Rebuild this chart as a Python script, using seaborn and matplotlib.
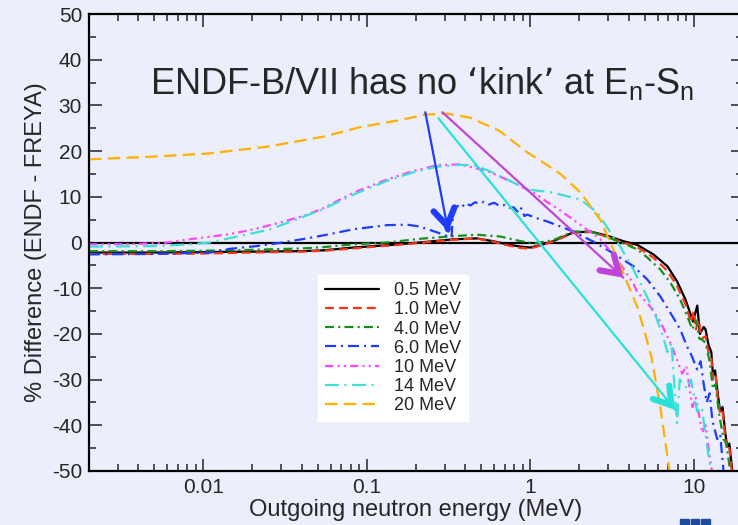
import numpy as np
import pandas as pd
import matplotlib
matplotlib.use("Agg")
import matplotlib.pyplot as plt
import matplotlib.ticker as mticker
from matplotlib.patches import Rectangle
import seaborn as sns

# ---------------- data ----------------
labels = ["0.5 MeV", "1.0 MeV", "4.0 MeV", "6.0 MeV", "10 MeV", "14 MeV", "20 MeV"]

e_05 = [0.002, 0.005, 0.01, 0.02, 0.04, 0.055, 0.083, 0.133, 0.21, 0.34, 0.47, 0.59, 0.72, 0.87,
        1.0, 1.15, 1.38, 1.83, 2.33, 2.95, 3.7, 4.5, 5.66, 6.9, 7.9, 8.9, 9.9, 10.5, 10.9, 11.5,
        11.8, 12.3, 12.8, 13.1, 13.5, 14.0, 14.5, 15.0, 15.5, 16.0, 16.5, 17.2, 17.5]
d_05 = [-2.2, -2.2, -2.1, -2.0, -1.9, -1.7, -1.1, -0.6, 0.0, 0.7, 0.9, 0.3, -0.4, -0.9,
        -1.1, -0.6, 0.3, 2.2, 2.4, 1.5, 0.3, -0.5, -2.6, -5.2, -8.5, -12.5, -17.3, -13.8, -20.0, -18.5,
        -19.0, -22.4, -24.0, -29.0, -28.0, -33.0, -37.0, -36.0, -41.0, -44.7, -44.0, -50.0, -55.0]

e_10 = [0.002, 0.005, 0.01, 0.02, 0.04, 0.055, 0.083, 0.133, 0.21, 0.34, 0.47, 0.59, 0.72, 0.87,
        1.0, 1.15, 1.38, 1.83, 2.33, 2.95, 3.7, 4.5, 5.66, 6.9, 7.9, 8.9, 9.6, 10.0, 10.3, 10.7,
        11.2, 11.8, 12.3, 12.8, 13.1, 13.6, 14.0, 14.5, 15.0, 15.5, 16.0, 16.5, 17.2, 17.5]
d_10 = [-2.5, -2.5, -2.4, -2.2, -2.0, -1.8, -1.3, -0.7, -0.1, 0.6, 0.9, 0.2, -0.6, -1.2,
        -1.3, -0.7, 0.2, 2.1, 2.3, 1.3, 0.0, -1.0, -3.3, -6.2, -9.5, -13.5, -17.5, -15.0, -19.0, -17.0,
        -21.0, -20.5, -24.0, -25.0, -30.0, -29.0, -34.0, -37.5, -37.0, -42.0, -45.5, -45.0, -51.0, -55.0]

e_40 = [0.002, 0.005, 0.01, 0.02, 0.04, 0.055, 0.083, 0.133, 0.21, 0.34, 0.47, 0.66, 0.87, 1.05,
        1.38, 1.83, 2.33, 2.95, 3.9, 4.5, 5.2, 6.24, 7.2, 8.26, 9.3, 9.8, 10.3, 10.8, 11.3, 11.8,
        12.5, 13.1, 13.6, 14.2, 15.2, 15.8, 16.7, 17.2]
d_40 = [-1.9, -1.9, -1.8, -1.6, -1.3, -1.0, -0.4, 0.0, 0.8, 1.4, 1.7, 1.3, 0.3, -0.2,
        0.5, 2.4, 2.4, 1.2, -0.5, -1.5, -3.3, -5.9, -8.8, -12.5, -16.9, -19.0, -17.0, -21.0, -21.3, -22.0,
        -26.0, -32.0, -31.0, -37.0, -43.0, -44.0, -50.0, -55.0]

e_60 = [0.002, 0.005, 0.011, 0.0144, 0.021, 0.028, 0.04, 0.055, 0.083, 0.133, 0.177, 0.21, 0.27,
        0.31, 0.33, 0.335, 0.34, 0.36, 0.38, 0.40, 0.43, 0.46, 0.49, 0.52, 0.56, 0.60, 0.65, 0.70,
        0.75, 0.79, 0.85, 0.88, 0.92, 0.96, 1.1, 1.27, 1.53, 1.83, 2.43, 3.2, 4.27, 5.2, 6.24, 7.2,
        8.26, 9.1, 9.5, 10.5, 11.0, 11.5, 12.0, 12.5, 13.0, 13.9, 14.5, 15.2, 15.5]
d_60 = [-2.6, -2.5, -2.2, -1.4, -0.8, -0.2, 0.7, 1.6, 2.9, 3.8, 3.9, 3.5, 2.2,
        1.4, 1.2, 5.0, 7.2, 8.0, 7.6, 8.6, 8.1, 8.8, 8.5, 8.9, 8.3, 8.7, 8.0, 8.2,
        7.6, 7.7, 6.5, 7.5, 5.8, 6.1, 5.3, 4.6, 3.5, 2.4, 0.2, -2.3, -5.2, -8.1, -11.8, -15.4,
        -19.0, -22.8, -24.0, -27.8, -26.0, -31.0, -35.0, -33.0, -39.0, -43.0, -42.0, -50.0, -55.0]

e_100 = [0.002, 0.004, 0.006, 0.0082, 0.0144, 0.021, 0.0304, 0.0427, 0.0534, 0.083, 0.133, 0.19,
         0.27, 0.37, 0.55, 0.79, 1.1, 1.25, 1.53, 1.83, 2.68, 3.4, 4.27, 4.5, 5.4, 6.24, 7.2, 7.9,
         8.5, 9.0, 9.8, 10.3, 11.3, 11.8, 12.6, 13.2, 13.5]
d_100 = [-0.4, -0.3, 0.0, 0.7, 1.8, 3.0, 4.5, 6.0, 7.4, 10.9, 13.8, 15.6,
         16.9, 17.1, 15.6, 13.1, 10.5, 9.0, 7.0, 5.0, 0.7, -3.7, -9.0, -10.8, -14.0, -17.3, -22.0, -25.7,
         -28.7, -27.0, -36.0, -34.0, -41.7, -40.0, -47.6, -52.0, -55.0]

e_140 = [0.002, 0.005, 0.0082, 0.011, 0.0166, 0.0253, 0.040, 0.0534, 0.083, 0.133, 0.19, 0.27,
         0.37, 0.45, 0.55, 0.72, 0.96, 1.33, 1.53, 2.02, 2.57, 3.0, 3.55, 4.27, 4.7, 5.66, 6.5,
         6.9, 7.3, 7.9, 8.2, 9.1, 9.6, 10.5, 11.2, 12.0, 12.6, 13.0]
d_140 = [-0.9, -0.8, -0.4, 0.0, 1.4, 2.8, 5.5, 7.2, 10.5, 13.5, 15.3, 16.6,
         17.0, 16.9, 15.8, 13.8, 11.6, 11.0, 10.5, 9.4, 6.6, 2.9, -0.9, -5.9, -8.8, -14.7, -20.6,
         -24.0, -22.0, -39.5, -30.0, -32.0, -30.0, -37.0, -36.0, -44.0, -49.0, -55.0]

e_200 = [0.002, 0.005, 0.011, 0.025, 0.055, 0.09, 0.16, 0.23, 0.31, 0.43, 0.65, 0.96, 1.2,
         1.53, 2.02, 2.68, 3.22, 3.92, 4.5, 4.9, 5.5, 6.24, 7.1, 7.5]
d_200 = [18.2, 18.8, 19.5, 21.0, 23.2, 25.2, 26.8, 28.0, 28.2, 27.3, 24.4, 19.7, 17.5,
         15.0, 11.0, 5.0, -1.5, -8.8, -14.0, -18.4, -25.0, -36.0, -50.0, -56.0]

energies = [e_05, e_10, e_40, e_60, e_100, e_140, e_200]
diffs = [d_05, d_10, d_40, d_60, d_100, d_140, d_200]

colors = ["#000000", "#FF3414", "#17901A", "#1E3CFF", "#FF45FF", "#3EE0D6", "#FFB000"]
dash_patterns = ["", (6.5, 3.5), (6.5, 3, 1.5, 3), (8, 3.5, 1.5, 3.5),
                 (6, 3, 1.5, 3, 1.5, 3), (10, 4, 1.5, 4), (9, 4.5)]

# arrows: (start E, start %, end E, end %)
arrow_blue = (0.228, 28.5, 0.315, 2.4)
arrow_purple = (0.29, 28.5, 3.71, -7.7)
arrow_cyan = (0.274, 27.2, 7.7, -36.6)

# ---------------- figure ----------------
sns.set_style("ticks")
bg = "#ECEFFB"
plt.rcParams["font.family"] = ["Liberation Sans", "DejaVu Sans"]
plt.rcParams["mathtext.default"] = "regular"
plt.rcParams["lines.scale_dashes"] = False
plt.rcParams["axes.unicode_minus"] = False

fig = plt.figure(figsize=(7.38, 5.25), dpi=100, facecolor=bg)
ax = fig.add_axes([89 / 738, 54 / 525, 654 / 738, 457 / 525])
ax.set_facecolor(bg)

frames = []
for lab, e, d in zip(labels, energies, diffs):
    frames.append(pd.DataFrame({"E": e, "diff": d, "Incident": lab}))
df = pd.concat(frames, ignore_index=True)

ax.axhline(0, color="black", lw=1.6, zorder=1)

sns.lineplot(data=df, x="E", y="diff", hue="Incident", style="Incident",
             hue_order=labels, style_order=labels,
             palette=dict(zip(labels, colors)), dashes=dict(zip(labels, dash_patterns)),
             estimator=None, sort=False, lw=1.6, ax=ax, zorder=2)

ax.set_xscale("log")
ax.set_xlim(0.002, 20)
ax.set_ylim(-50, 50)
ax.yaxis.set_major_locator(mticker.MultipleLocator(10))
ax.yaxis.set_minor_locator(mticker.MultipleLocator(5))
ax.xaxis.set_major_locator(mticker.LogLocator(base=10, numticks=10))
ax.xaxis.set_minor_locator(mticker.LogLocator(base=10, subs=np.arange(2, 10), numticks=20))
ax.xaxis.set_major_formatter(mticker.FuncFormatter(lambda v, _: f"{v:g}"))
ax.xaxis.set_minor_formatter(mticker.NullFormatter())

ax.tick_params(which="major", direction="in", length=9, width=1.2, top=True, right=True,
               labelsize=15, pad=5, color="#333333")
ax.tick_params(which="minor", direction="in", length=5, width=1.2, top=True, right=True,
               color="#333333")
for s in ax.spines.values():
    s.set_linewidth(1.6)
    s.set_color("black")

ax.set_xlabel("Outgoing neutron energy (MeV)", fontsize=17)
ax.set_ylabel("% Difference (ENDF - FREYA)", fontsize=17)
ax.xaxis.set_label_coords(0.5, -0.061)
ax.yaxis.set_label_coords(-0.064, 0.5)


def draw_arrow(a, color, frac=0.03):
    xs, ys, xe, ye = a
    ax.annotate("", xy=(xe, ye), xytext=(xs, ys),
                arrowprops=dict(arrowstyle="-", color=color, lw=1.6,
                                shrinkA=0, shrinkB=0), zorder=5)
    lx = np.log10(xe) - frac * (np.log10(xe) - np.log10(xs))
    yh = ye - frac * (ye - ys)
    ax.annotate("", xy=(xe, ye), xytext=(10 ** lx, yh),
                arrowprops=dict(arrowstyle="->,head_length=0.6,head_width=0.38",
                                color=color, lw=4.5, shrinkA=0, shrinkB=0,
                                mutation_scale=20, capstyle="round", joinstyle="miter"),
                zorder=5)


draw_arrow(arrow_blue, "#1F3CFF", frac=0.02)
draw_arrow(arrow_purple, "#BF45D8")
draw_arrow(arrow_cyan, "#28E2DA")

handles, labs = ax.get_legend_handles_labels()
leg = ax.legend(handles, labs, loc="upper left", bbox_to_anchor=(0.350, 0.429),
                borderaxespad=0, fontsize=13, frameon=True, fancybox=False,
                handlelength=3.0, handletextpad=0.8, labelspacing=0.12,
                borderpad=0.4)
leg.get_frame().set_facecolor("white")
leg.get_frame().set_edgecolor("white")
leg.get_frame().set_alpha(1)
for h in leg.get_lines():
    h.set_linewidth(1.6)

fig.text(150 / 738, 1 - 94 / 525, "ENDF-B/VII has no \u2018kink\u2019 at E$_n$-S$_n$",
         fontsize=26, ha="left", va="baseline")

# logo fragment at the bottom edge
for i in range(3):
    fig.patches.append(Rectangle(((680 + i * 10.5) / 738, 0), 8.5 / 738, 6 / 525,
                                 transform=fig.transFigure, color="#1D4A9C"))

fig.savefig("out.png", dpi=100, facecolor=bg)
